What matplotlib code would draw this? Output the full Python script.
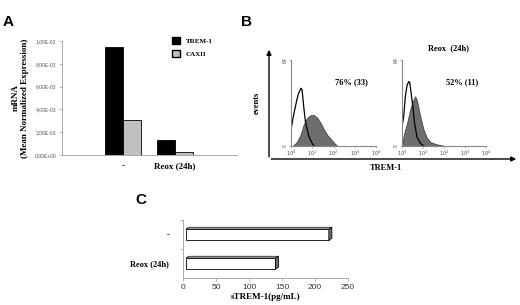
import matplotlib
matplotlib.use("Agg")
import matplotlib.pyplot as plt
from matplotlib.patches import Patch, Polygon

# Panel A: mRNA expression
groups = ["-", "Reox (24h)"]
trem1 = [9.5e-3, 1.3e-3]
caxii = [3.1e-3, 0.25e-3]
a_ticks = [0, 2e-3, 4e-3, 6e-3, 8e-3, 1e-2]
a_ticklabels = ["0,00E+00", "2,00E-03", "4,00E-03", "6,00E-03", "8,00E-03", "1,00E-02"]

# Panel B: flow histograms (x in decades, counts on a 0-64 scale)
open1_x = [0, 0.0, 0.11, 0.27, 0.35, 0.47, 0.52, 0.6, 0.68, 0.84, 1.0, 1.08]
open1_y = [0, 12, 22, 34, 39, 43, 42, 29, 18, 7, 2, 0]
fill1_x = [0.08, 0.27, 0.44, 0.6, 0.76, 0.92, 1.08, 1.24, 1.4, 1.56, 1.72, 1.89, 2.05, 2.18]
fill1_y = [0, 3, 8, 16, 21, 23, 23, 21, 17, 12, 8, 5, 2, 0]
open2_x = [0, 0.0, 0.08, 0.16, 0.24, 0.32, 0.37, 0.43, 0.52, 0.6, 0.71, 0.87, 1.03]
open2_y = [0, 14, 22, 37, 45, 48, 47, 40, 29, 17, 7, 2, 0]
fill2_x = [0.0, 0.08, 0.24, 0.4, 0.56, 0.63, 0.71, 0.79, 0.87, 1.03, 1.19, 1.35, 1.59, 1.83, 2.05]
fill2_y = [0, 8, 17, 28, 35, 37, 34, 28, 22, 12, 6, 3, 1.5, 0.7, 0]
pct_labels = ["76% (33)", "52% (11)"]
decade_labels = [r"$10^0$", r"$10^1$", r"$10^2$", r"$10^3$", r"$10^4$"]

# Panel C: soluble TREM-1
c_labels = ["Reox (24h)", "-"]
strem = [140, 221]
c_ticks = [0, 50, 100, 150, 200, 250]

W, H = 520, 305
serif = "Liberation Serif"
sans = "Liberation Sans"
fig = plt.figure(figsize=(5.2, 3.05), dpi=100)


def box(x0, y0, x1, y1):
    return [x0 / W, 1 - y1 / H, (x1 - x0) / W, (y1 - y0) / H]


# ---------------- A ----------------
axA = fig.add_axes(box(62, 41, 237, 155))
pos = [0, 1]
bw = 0.34
axA.bar([p - bw / 2 for p in pos], trem1, bw, color="black", edgecolor="black", lw=0.6)
axA.bar([p + bw / 2 for p in pos], caxii, bw, color="#c0c0c0", edgecolor="black", lw=0.6)
axA.set_xlim(-1.17, 2.19)
axA.set_ylim(0, 0.01)
axA.set_yticks(a_ticks)
axA.set_yticklabels(a_ticklabels, fontsize=3.6, family=sans, color="#555555")
axA.set_xticks(pos)
axA.set_xticklabels(groups, fontsize=6.5, family=serif, fontweight="bold")
axA.tick_params(axis="x", length=0, pad=5)
axA.tick_params(axis="y", length=2, width=0.5, color="#999999", pad=2)
for s in ["top", "right"]:
    axA.spines[s].set_visible(False)
for s in ["left", "bottom"]:
    axA.spines[s].set_color("#aaaaaa")
    axA.spines[s].set_linewidth(0.7)
handles = [Patch(facecolor="black", edgecolor="black"),
           Patch(facecolor="#c0c0c0", edgecolor="black")]
axA.legend(handles, ["TREM-1", "CAXII"], loc="upper left",
           bbox_to_anchor=(166 / W, 1 - 31 / H), bbox_transform=fig.transFigure,
           frameon=False, handlelength=1.1, handleheight=1.1, labelspacing=0.9,
           handletextpad=0.8, prop={"family": serif, "weight": "bold", "size": 5})
fig.text(20 / W, 1 - 98 / H, "mRNA\n(Mean Normalized Expression)", rotation=90,
         ha="center", va="center", multialignment="center", family=serif,
         fontweight="bold", fontsize=6.5)
fig.text(8 / W, 1 - 22 / H, "A", family=sans, fontweight="bold", fontsize=11,
         ha="center", va="center")

# ---------------- B ----------------
fig.text(247 / W, 1 - 22 / H, "B", family=sans, fontweight="bold", fontsize=11,
         ha="center", va="center")
arrow = dict(arrowstyle="-|>", color="black", lw=1.0, mutation_scale=7)
axA.annotate("", xy=(269 / W, 1 - 47 / H), xytext=(269 / W, 1 - 159.5 / H),
             xycoords="figure fraction", textcoords="figure fraction",
             arrowprops=arrow, annotation_clip=False)
axA.annotate("", xy=(519 / W, 1 - 159 / H), xytext=(268.5 / W, 1 - 159 / H),
             xycoords="figure fraction", textcoords="figure fraction",
             arrowprops=arrow, annotation_clip=False)
fig.text(257 / W, 1 - 103 / H, "events", rotation=90, ha="center", va="center",
         family=serif, fontweight="bold", fontsize=6)
fig.text(386 / W, 1 - 168 / H, "TREM-1", ha="center", va="center",
         family=serif, fontweight="bold", fontsize=6)

hists = [(box(291, 60, 376, 146), open1_x, open1_y, fill1_x, fill1_y),
         (box(402, 60, 486, 146), open2_x, open2_y, fill2_x, fill2_y)]
for i, (rect, ox, oy, fx, fy) in enumerate(hists):
    ax = fig.add_axes(rect)
    ax.fill_between(fx, fy, color="#6e6e6e", lw=0.5, edgecolor="#333333")
    ax.plot(ox, oy, color="black", lw=0.9)
    ax.set_xlim(0, 4)
    ax.set_ylim(0, 64)
    ax.set_xticks(range(5))
    ax.set_xticklabels(decade_labels, fontsize=3.5, color="#444444")
    ax.set_yticks([0, 64])
    ax.set_yticklabels(["0", "64"], fontsize=3.3, color="#444444", rotation=90,
                       va="center")
    ax.tick_params(length=1.2, width=0.4, pad=1, color="#888888")
    for s in ["top", "right"]:
        ax.spines[s].set_visible(False)
    for s in ["left", "bottom"]:
        ax.spines[s].set_color("#888888")
        ax.spines[s].set_linewidth(0.8)
    ax.patch.set_alpha(0)
    ax.text(0.71, 0.74, pct_labels[i], transform=ax.transAxes, ha="center",
            va="center", family=serif, fontweight="bold", fontsize=6)
fig.text(448 / W, 1 - 48 / H, "Reox  (24h)", ha="center", va="center",
         family=serif, fontweight="bold", fontsize=6)

# ---------------- C ----------------
axC = fig.add_axes(box(183, 220, 348, 278))
axC.set_xlim(0, 250)
axC.set_ylim(-0.5, 1.5)
bh = 0.38
d = 4.5      # depth offset in data units (x)
dy = 0.06    # depth offset in y
for yi, v in enumerate(strem):
    y0, y1 = yi - bh / 2, yi + bh / 2
    axC.add_patch(Polygon([(d, y0), (v, y0), (v, y1), (d, y1)], closed=True,
                          facecolor="white", edgecolor="black", lw=0.6))
    axC.add_patch(Polygon([(v, y0), (v + d, y0 + dy), (v + d, y1 + dy), (v, y1)],
                          closed=True, facecolor="#707070", edgecolor="black", lw=0.6))
    axC.add_patch(Polygon([(d, y1), (v, y1), (v + d, y1 + dy), (2 * d, y1 + dy)],
                          closed=True, facecolor="#dddddd", edgecolor="black", lw=0.5))
axC.set_xticks(c_ticks)
axC.set_xticklabels([str(t) for t in c_ticks], fontsize=6, family=sans,
                    color="#333333")
axC.set_yticks([0, 1])
axC.set_yticklabels(c_labels, fontsize=6, family=serif, fontweight="bold")
axC.set_yticks([0.5, 1.5], minor=True)
axC.tick_params(axis="y", which="major", length=0, pad=10)
axC.tick_params(axis="y", which="minor", length=2, width=0.5, color="#999999")
axC.tick_params(axis="x", length=2, width=0.5, color="#999999", pad=2)
for s in ["top", "right"]:
    axC.spines[s].set_visible(False)
for s in ["left", "bottom"]:
    axC.spines[s].set_color("#aaaaaa")
    axC.spines[s].set_linewidth(0.7)
axC.set_xlabel("sTREM-1(pg/mL)", family=serif, fontweight="bold", fontsize=6.5,
               labelpad=2)
fig.text(141 / W, 1 - 200 / H, "C", family=sans, fontweight="bold", fontsize=11,
         ha="center", va="center")

fig.savefig("out.png", dpi=100)
